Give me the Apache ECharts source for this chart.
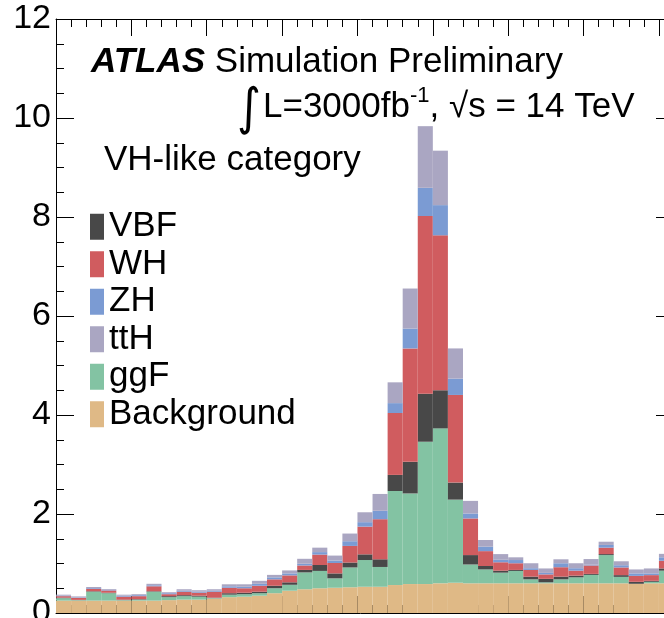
<!DOCTYPE html>
<html><head><meta charset="utf-8">
<script src="https://cdn.jsdelivr.net/npm/echarts@6/dist/echarts.min.js"></script>
<style>html,body{margin:0;padding:0;background:#fff}#c{width:664px;height:618px}</style>
</head><body><div id="c"></div>
<script>
// bin lower edges (x labels are outside the visible picture)
const bins = [100,101,102,103,104,105,106,107,108,109,110,111,112,113,114,115,116,117,118,119,120,
  121,122,123,124,125,126,127,128,129,130,131,132,133,134,135,136,137,138,139,140];
const background = [0.25,0.25,0.25,0.25,0.25,0.25,0.25,0.26,0.27,0.27,0.29,0.32,0.33,0.35,0.40,0.45,0.48,0.50,0.51,0.52,0.53,
  0.53,0.565,0.585,0.585,0.60,0.61,0.60,0.60,0.60,0.60,0.60,0.60,0.60,0.60,0.60,0.60,0.60,0.59,0.60,0.60];
const ggF = [0.05,0.01,0.18,0.15,0.01,0.02,0.18,0.06,0.07,0.06,0.01,0.05,0.05,0.05,0.10,0.12,0.34,0.35,0.19,0.40,0.54,
  0.40,1.90,1.83,2.875,3.13,1.68,0.38,0.28,0.215,0.25,0.08,0.02,0.08,0.12,0.17,0.57,0.13,0.0,0.03,0.255];
const VBF = [0.01,0.005,0.01,0.01,0.01,0.01,0.01,0.02,0.02,0.02,0.01,0.03,0.03,0.03,0.05,0.05,0.05,0.12,0.10,0.10,0.115,
  0.155,0.325,0.64,0.97,0.77,0.345,0.19,0.07,0.04,0.02,0.055,0.07,0.055,0.035,0.02,0.02,0.035,0.04,0.02,0.045];
const WH = [0.03,0.04,0.05,0.045,0.06,0.06,0.10,0.04,0.07,0.06,0.12,0.11,0.09,0.12,0.13,0.14,0.09,0.21,0.21,0.335,0.56,
  0.81,1.25,2.29,3.59,3.13,1.77,0.74,0.30,0.17,0.135,0.135,0.09,0.19,0.10,0.17,0.13,0.155,0.12,0.115,0.155];
const ZH = [0.01,0.01,0.015,0.015,0.02,0.02,0.02,0.02,0.02,0.02,0.02,0.03,0.03,0.04,0.04,0.04,0.035,0.05,0.05,0.095,0.09,
  0.17,0.20,0.40,0.57,0.61,0.33,0.10,0.09,0.05,0.065,0.035,0.03,0.08,0.05,0.015,0.055,0.045,0.05,0.035,0.07];
const ttH = [0.02,0.02,0.02,0.015,0.02,0.02,0.03,0.02,0.03,0.03,0.03,0.04,0.05,0.06,0.05,0.06,0.10,0.09,0.10,0.155,0.20,
  0.34,0.42,0.81,1.245,1.10,0.61,0.255,0.135,0.115,0.055,0.10,0.09,0.08,0.10,0.115,0.065,0.08,0.08,0.10,0.07];
const legendOrder = ['VBF','WH','ZH','ttH','ggF','Background'];

const F = '"Liberation Sans", Arial, Helvetica, sans-serif';
const FS = 35;
const colors = {Background:'#dfb986', ggF:'#83c3a3', VBF:'#484848', WH:'#d05c5f', ZH:'#7b9bd3', ttH:'#aaa6c2'};
const stackOrder = [['Background',background],['ggF',ggF],['VBF',VBF],['WH',WH],['ZH',ZH],['ttH',ttH]];

const chart = echarts.init(document.getElementById('c'), null, {renderer:'canvas'});
const tickStyle = {color:'#000', width:1};
function xAx(pos, len, interval, line){
  return {type:'category', data:bins, position:pos, boundaryGap:true,
    axisLine:{show:line, onZero:false, lineStyle:tickStyle},
    axisTick:{show:true, inside:true, length:len, interval:interval, lineStyle:tickStyle},
    axisLabel:{show:false}, splitLine:{show:false}};
}
function yAx(pos, labels){
  return {type:'value', min:0, max:12, interval:2, position:pos,
    axisLine:{show:true, onZero:false, lineStyle:tickStyle},
    axisTick:{show:true, inside:true, length:18, lineStyle:tickStyle},
    minorTick:{show:true, splitNumber:4, length:8, lineStyle:tickStyle},
    axisLabel:{show:labels, fontSize:34, color:'#000', fontFamily:F, margin:5},
    splitLine:{show:false}, minorSplitLine:{show:false}};
}
const option = {
  animation:false,
  backgroundColor:'#fff',
  grid:{left:56, top:19, width:618, height:594, containLabel:false, outerBoundsMode:'none'},
  xAxis:[xAx('bottom',8,0,true), xAx('bottom',17,4,false), xAx('top',8,0,true), xAx('top',17,4,false)],
  yAxis:[yAx('left',true), yAx('right',false)],
  legend:{data:legendOrder, orient:'vertical', left:90, top:208, padding:0, itemGap:0,
    itemWidth:14, itemHeight:26, icon:'rect', selectedMode:false,
    textStyle:{fontSize:FS, lineHeight:37.5, color:'#000', fontFamily:F}},
  series: stackOrder.map(([name,arr]) => ({
    name, type:'bar', stack:'all', data:arr, xAxisIndex:0, yAxisIndex:0,
    barCategoryGap:'0%', barGap:'0%', silent:true,
    itemStyle:{color:colors[name]}
  })),
  graphic:[
    {type:'text', x:91, y:62, style:{text:'{a|ATLAS} {b|Simulation Preliminary}', fill:'#000',
      fontSize:FS, fontFamily:F, verticalAlign:'middle',
      rich:{a:{fontSize:FS, fontWeight:'bold', fontStyle:'italic', fontFamily:F},
            b:{fontSize:FS, fontFamily:F}}}},
    {type:'text', x:237, y:111, scaleY:1.1, style:{text:'∫', fill:'#000', fontSize:46, fontFamily:'"DejaVu Sans", sans-serif', verticalAlign:'middle'}},
    {type:'text', x:263, y:107, style:{text:'{t|L=3000fb}{s|-1}{t|, }{t|√}{t|s = 14 TeV}', fill:'#000',
      fontSize:FS, fontFamily:F, verticalAlign:'middle',
      rich:{t:{fontSize:FS, lineHeight:44, fontFamily:F},
            s:{fontSize:22, lineHeight:22, verticalAlign:'top', fontFamily:F}}}},
    {type:'text', x:104, y:160, style:{text:'VH-like category', fill:'#000', fontSize:FS, fontFamily:F, verticalAlign:'middle'}}
  ]
};
chart.setOption(option);
</script>
</body></html>
